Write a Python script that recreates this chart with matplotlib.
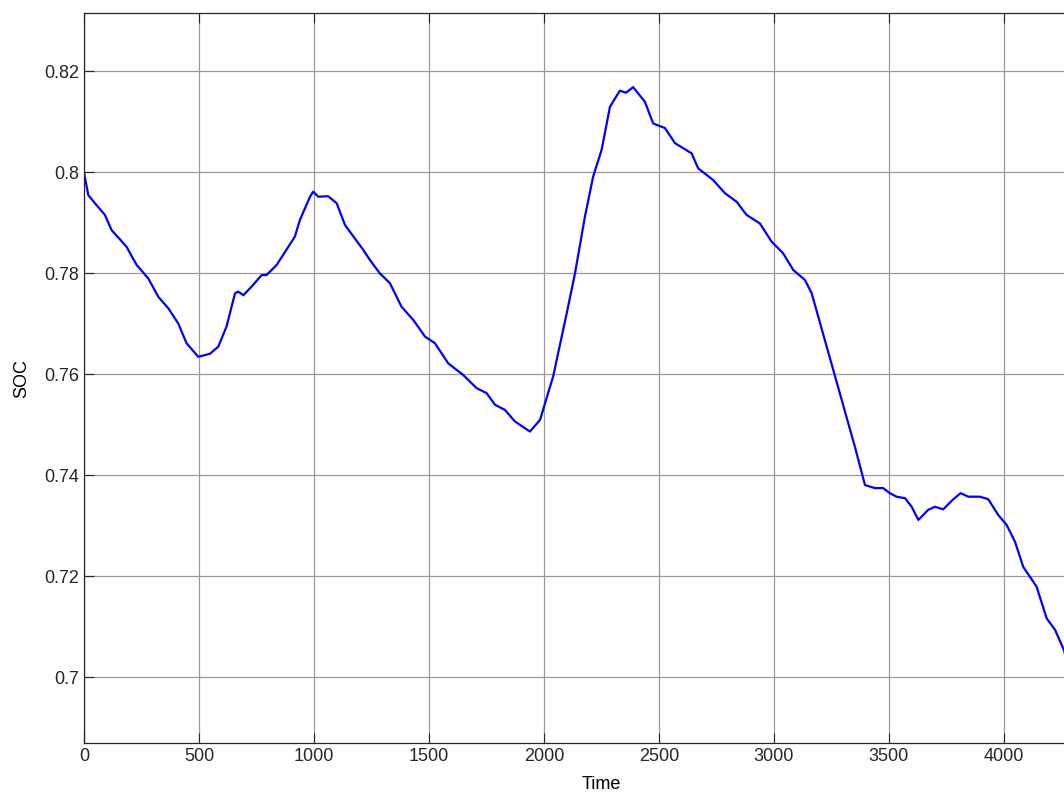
import numpy as np
import matplotlib
matplotlib.use("Agg")
import matplotlib.pyplot as plt
from matplotlib.ticker import FormatStrFormatter

plt.rcParams['font.family'] = ['Liberation Sans', 'DejaVu Sans']

## DATA

# state of charge trace over time (s)
time = [0, 19, 48, 91, 120, 185, 229, 280, 323, 367, 410, 446, 497, 548, 584,
        620, 657, 671, 693, 729, 773, 794, 838, 903, 917, 939, 983, 997, 1019,
        1062, 1099, 1135, 1214, 1243, 1287, 1330, 1381, 1432, 1483, 1526, 1584,
        1649, 1707, 1751, 1787, 1830, 1874, 1939, 1983, 2040, 2099, 2135, 2178,
        2214, 2251, 2287, 2330, 2357, 2388, 2439, 2475, 2526, 2570, 2642, 2671,
        2736, 2787, 2838, 2881, 2939, 2990, 3040, 3084, 3135, 3164, 3258, 3352,
        3396, 3439, 3475, 3504, 3533, 3570, 3599, 3628, 3671, 3700, 3736, 3780,
        3812, 3845, 3896, 3932, 3975, 4012, 4048, 4084, 4142, 4186, 4223, 4261,
        4290]
soc = [0.8000, 0.7955, 0.7939, 0.7916, 0.7886, 0.7853, 0.7817, 0.7790, 0.7754,
       0.7731, 0.7701, 0.7662, 0.7635, 0.7641, 0.7655, 0.7695, 0.7761, 0.7764,
       0.7757, 0.7774, 0.7797, 0.7797, 0.7817, 0.7863, 0.7873, 0.7906, 0.7952,
       0.7962, 0.7952, 0.7953, 0.7939, 0.7896, 0.7847, 0.7827, 0.7800, 0.7781,
       0.7734, 0.7708, 0.7675, 0.7662, 0.7622, 0.7599, 0.7573, 0.7563, 0.7540,
       0.7530, 0.7507, 0.7487, 0.7510, 0.7596, 0.7721, 0.7800, 0.7912, 0.7992,
       0.8045, 0.8130, 0.8162, 0.8158, 0.8169, 0.8140, 0.8097, 0.8088, 0.8058,
       0.8038, 0.8008, 0.7985, 0.7959, 0.7942, 0.7916, 0.7899, 0.7863, 0.7840,
       0.7807, 0.7787, 0.7761, 0.7609, 0.7457, 0.7381, 0.7375, 0.7375, 0.7365,
       0.7358, 0.7355, 0.7338, 0.7312, 0.7332, 0.7338, 0.7333, 0.7353, 0.7365,
       0.7358, 0.7358, 0.7353, 0.7322, 0.7302, 0.7269, 0.7219, 0.7180, 0.7117,
       0.7094, 0.7054, 0.7005]

x_ticks = [0, 500, 1000, 1500, 2000, 2500, 3000, 3500, 4000]
y_ticks = [0.70, 0.72, 0.74, 0.76, 0.78, 0.80, 0.82]

## PLOT

fig = plt.figure(figsize=(10.64, 7.96), dpi=100)
# axes run past the right edge of the figure
ax = fig.add_axes([0.0789, 0.0666, 0.9727, 0.9165])

ax.plot(time, soc, color='#0000ff', linewidth=1.6)

ax.set_xlim(0, 4500)
ax.set_ylim(0.68703, 0.83149)
ax.set_xticks(x_ticks)
ax.set_yticks(y_ticks)
ax.yaxis.set_major_formatter(FormatStrFormatter('%g'))

ax.grid(True, color='#9a9a9a', linewidth=0.9)
ax.set_axisbelow(True)
ax.tick_params(axis='both', which='major', labelsize=13, direction='in',
               length=7, width=0.8, top=True, right=True, colors='#262626')
for sp in ax.spines.values():
    sp.set_color('#262626')
    sp.set_linewidth(0.9)

ax.set_xlabel('Time', fontsize=13, labelpad=8)
ax.set_ylabel('SOC', fontsize=13, labelpad=10)

fig.savefig('out.png', dpi=100)
